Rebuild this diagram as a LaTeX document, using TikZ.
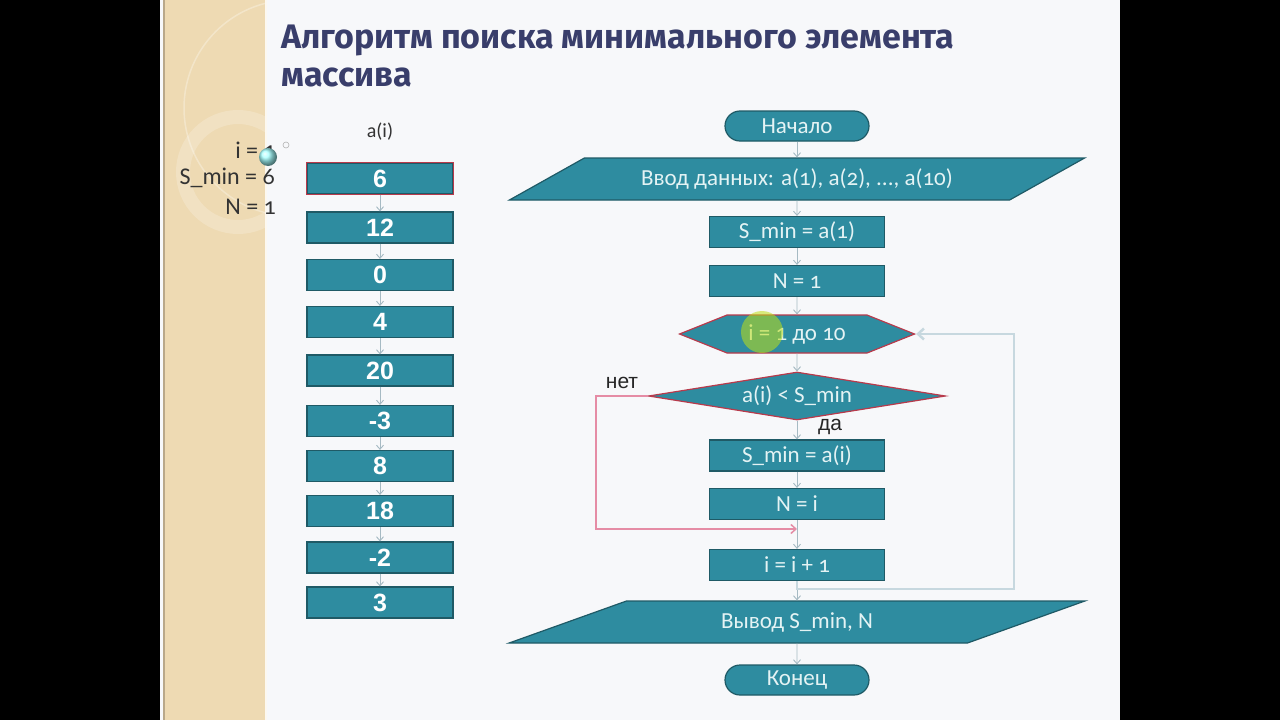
\documentclass[tikz,border=0pt]{standalone}
\usepackage{fontspec}
\setmainfont{Carlito}[Numbers=OldStyle]
\newfontfamily\titlefont{Fira Sans}
\newfontfamily\numfont{Liberation Sans}
\usetikzlibrary{positioning,arrows.meta,shapes.geometric,shapes.symbols}

\definecolor{slidebg}{HTML}{F7F8FA}
\definecolor{beige}{HTML}{EEDAB3}
\definecolor{beigeedge}{HTML}{B9A88A}
\definecolor{titleblue}{HTML}{393E6B}
\definecolor{boxfill}{HTML}{2E8CA0}
\definecolor{boxedge}{HTML}{1F5A66}
\definecolor{boxtext}{HTML}{E4F3F4}
\definecolor{decred}{HTML}{B83A4B}
\definecolor{linkgray}{HTML}{A6BAC3}
\definecolor{loopgray}{HTML}{C7D8DF}
\definecolor{nopink}{HTML}{E58CA5}

\begin{document}
\begin{tikzpicture}[
  x=1pt, y=-1pt,
  block/.style={draw=boxedge, fill=boxfill, line width=1.2pt, text=boxtext,
                minimum width=175pt, minimum height=31pt, inner sep=0pt,
                font=\fontsize{23}{26}\selectfont},
  term/.style={block, rounded corners=15pt, minimum width=144pt, minimum height=30pt},
  io/.style={block, trapezium, trapezium left angle=20.56, trapezium right angle=159.44,
             trapezium stretches=true, minimum width=577pt, minimum height=42pt},
  hexa/.style={block, draw=decred, signal, signal to=west and east,
               signal pointer angle=43.6, minimum width=235pt, minimum height=38pt},
  choice/.style={block, draw=decred, diamond, aspect=6.2,
                 minimum width=297pt, minimum height=48pt},
  cell/.style={draw=boxedge, fill=boxfill, line width=1.2pt, text=white,
               minimum width=146pt, minimum height=31pt, inner sep=0pt,
               font=\numfont\bfseries\fontsize{25}{28}\selectfont},
  link/.style={-{Straight Barb[length=4pt,width=7pt]}, linkgray, line width=0.9pt},
  varlbl/.style={text=black!80, font=\fontsize{24}{26}\selectfont, inner sep=0pt},
  branch/.style={text=black!85, font=\numfont\fontsize{21}{23}\selectfont, inner sep=0pt},
  title/.style={text=titleblue, font=\titlefont\bfseries\fontsize{34}{38}\selectfont,
                inner sep=0pt, anchor=base west},
]
  \useasboundingbox (0,0) rectangle (1280,720);
  % slide and side strip
  \fill[black] (0,0) rectangle (1280,720);
  \fill[slidebg] (160,0) rectangle (1120,720);
  \fill[beige] (163,0) rectangle (266,720);
  \draw[beigeedge, line width=1.5pt] (164,0) -- (164,720);
  \draw[white!80!beige, line width=1.5pt] (266,0) -- (266,720);
  \begin{scope}
    \clip (165,0) rectangle (265,260);
    \draw[white, opacity=.3, line width=1.5pt] (292,108) circle (108);
    \draw[white, opacity=.2, line width=14pt] (238,172) circle (55);
  \end{scope}

  % title
  \node[title] (title) at (281,48) {Алгоритм поиска минимального элемента};
  \node[title] (title2) at (281,86) {массива};

  % current values
  \node[varlbl, anchor=east] (ival) at (276,150) {i = 1};
  \node[varlbl, anchor=east] (sval) at (275,178) {S\_min = 6};
  \node[varlbl, anchor=east] (nval) at (276,207) {N = 1};
  \shade[ball color=cyan!35] (268,157) circle (9);
  \draw[black!30, line width=0.6pt] (286,145) circle (3);

  % array a(i)
  \foreach \val/\ypos [count=\k] in {6/178.5, 12/227.5, 0/275, 4/322, 20/370.5,
                                     -3/421, 8/466, 18/511, -2/557.5, 3/602.5}
    \node[cell] (a\k) at (380,\ypos) {\val};
  \node[varlbl, font=\fontsize{20}{22}\selectfont, above=22pt of a1] (ahead) {a(i)};
  \draw[decred, line width=1.6pt] (a1.south west) rectangle (a1.north east);
  \foreach \k [evaluate=\k as \n using int(\k+1)] in {1,...,9}
    \draw[link] (a\k.south) -- (a\n.north);

  % flowchart
  \node[term] (start) at (797,126) {Начало};
  \node[io] (input) at (797,179) {Ввод данных: a(1), a(2), ..., a(10)};
  \node[block] (sminit) at (797,232) {S\_min = a(1)};
  \node[block] (ninit) at (797,281) {N = 1};
  \node[hexa] (loop) at (797,334) {i = 1 до 10};
  \node[choice] (cond) at (797,396) {a(i) < S\_min};
  \node[block] (smin) at (797,455.5) {S\_min = a(i)};
  \node[block] (nset) at (797,504) {N = i};
  \node[block] (inc) at (797,565) {i = i + 1};
  \node[io] (output) at (797,622) {Вывод S\_min, N};
  \node[term] (stop) at (797,680) {Конец};

  \fill[yellow!75!green, opacity=.55] (762,332) circle (21);

  \draw[link] (start) -- (input);
  \draw[link] (input) -- (sminit);
  \draw[link] (sminit) -- (ninit);
  \draw[link] (ninit) -- (loop);
  \draw[link] (loop) -- (cond);
  \draw[link] (cond) -- (smin);
  \draw[link] (smin) -- (nset);
  \draw[link] (nset) -- (inc);
  \draw[link] (inc) -- (output);
  \draw[link] (output) -- (stop);

  % branch "no" and loop back
  \coordinate (join) at (797,529);
  \draw[nopink, line width=1.5pt, -{Straight Barb[length=5pt,width=9pt]}]
    (cond.west) -- ++(-52,0) |- (join);
  \coordinate (turn) at (1014,589);
  \draw[loopgray, line width=2.5pt, -{Straight Barb[length=6pt,width=11pt]}]
    (inc.south) |- (turn) |- (loop.east);

  \node[branch] (nolbl) at (622,383) {нет};
  \node[branch] (yeslbl) at (830,427) {да};
\end{tikzpicture}
\end{document}
